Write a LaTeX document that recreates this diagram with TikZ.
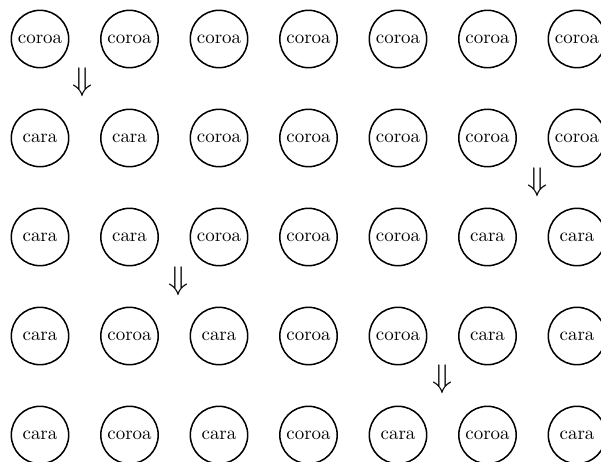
\documentclass[tikz,border=0pt]{standalone}
\usepackage{amsmath,amssymb}
\usepackage{tikz}

\begin{document}
\begin{tikzpicture}[x=0.528pt,y=-0.528pt,
    coin/.style={draw,circle,thick,minimum size=30.3pt,inner sep=0pt},
    flip/.style={font=\LARGE,inner sep=0pt}]
  \useasboundingbox (0,0) rectangle (601,461);
  \clip (0,0) rectangle (601,461);
  \foreach \faces [count=\r] in {
      {coroa,coroa,coroa,coroa,coroa,coroa,coroa},
      {cara,cara,coroa,coroa,coroa,coroa,coroa},
      {cara,cara,coroa,coroa,coroa,cara,cara},
      {cara,coroa,cara,coroa,coroa,cara,cara},
      {cara,coroa,cara,coroa,cara,coroa,cara}}
    \foreach \face [count=\c] in \faces
      \node[coin] (c\r\c) at ({40+89.5*(\c-1)},{39+99*(\r-1)}) {\face};
  \node[flip] (f1) at (82,82) {$\Downarrow$};
  \node[flip] (f2) at (537,182) {$\Downarrow$};
  \node[flip] (f3) at (178,281) {$\Downarrow$};
  \node[flip] (f4) at (442,379) {$\Downarrow$};
\end{tikzpicture}
\end{document}
